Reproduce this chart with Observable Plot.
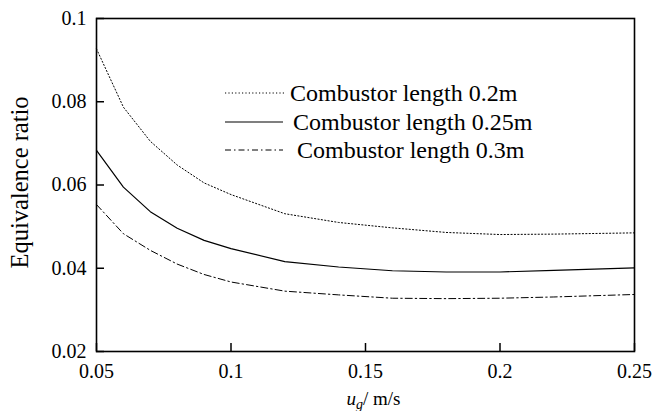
<!DOCTYPE html>
<html><head><meta charset="utf-8">
<script src="https://cdn.jsdelivr.net/npm/d3@7"></script>
<script src="https://cdn.jsdelivr.net/npm/@observablehq/plot@0.6"></script>
<style>
body{margin:0;background:#fff;}
#wrap{position:relative;width:654px;height:411px;font-family:"Liberation Serif","Times New Roman",serif;}
.leg{position:absolute;left:225px;height:28px;display:flex;align-items:center;font-size:24px;color:#000;white-space:nowrap;}
.leg svg{display:block;}
</style></head><body><div id="wrap"></div>
<script>
const speeds = [0.05, 0.06, 0.07, 0.08, 0.09, 0.1, 0.12, 0.14, 0.16, 0.18, 0.2, 0.22, 0.25];
const len020 = [0.0927, 0.0787, 0.0705, 0.0648, 0.0605, 0.0577, 0.0531, 0.0510, 0.0497, 0.0486, 0.0481, 0.0482, 0.0485];
const len025 = [0.0683, 0.0595, 0.0536, 0.0496, 0.0467, 0.0447, 0.0416, 0.0403, 0.0394, 0.0391, 0.0391, 0.0395, 0.0401];
const len030 = [0.0553, 0.0483, 0.0443, 0.0410, 0.0385, 0.0367, 0.0345, 0.0336, 0.0328, 0.0327, 0.0328, 0.0331, 0.0337];
const seriesNames = ["Combustor length 0.2m", "Combustor length 0.25m", "Combustor length 0.3m"];
const xTicks = [0.05, 0.1, 0.15, 0.2, 0.25];
const xTickLabels = ["0.05", "0.1", "0.15", "0.2", "0.25"];
const yTicks = [0.02, 0.04, 0.06, 0.08, 0.1];
const yTickLabels = ["0.02", "0.04", "0.06", "0.08", "0.1"];
const yLabel = "Equivalence ratio";
const xLabelParts = ["u", "g", "/ m/s"];

const font = '"Liberation Serif","Times New Roman",serif';
const seriesValues = [len020, len025, len030];
const dashes = ["1.2,2.2", null, "7,3,1.5,3"];
const legendDashes = ["1.2,2.2", null, "6,3,1.5,3"];
const rows = seriesValues.map(vals => speeds.map((s, i) => ({s, v: vals[i]})));

const svg = Plot.plot({
  width: 654, height: 411,
  marginLeft: 96, marginRight: 20, marginTop: 18, marginBottom: 60,
  style: {fontFamily: font, fontSize: "20px", color: "#000", background: "#fff", overflow: "visible"},
  x: {domain: [0.05, 0.25]},
  y: {domain: [0.02, 0.1]},
  marks: [
    Plot.axisX({ticks: xTicks, tickFormat: d => xTickLabels[xTicks.indexOf(d)], tickSize: -8, tickPadding: 20, stroke: "#000", strokeWidth: 1.5, label: null, fontFamily: font}),
    Plot.axisY({ticks: yTicks, tickFormat: d => yTickLabels[yTicks.indexOf(d)], tickSize: -8, tickPadding: 18, stroke: "#000", strokeWidth: 1.5, label: null, fontFamily: font}),
    ...rows.map((r, i) => Plot.line(r, {x: "s", y: "v", stroke: "#000", strokeWidth: i === 1 ? 1.2 : 1, strokeDasharray: dashes[i]})),
    Plot.frame({stroke: "#000", strokeWidth: 1.6}),
    Plot.text([yLabel], {text: d => d, frameAnchor: "left", textAnchor: "middle", dx: -76, dy: -2.5, rotate: -90, fontSize: 24.5, lineAnchor: "middle", fill: "#000", fontFamily: font}),
    Plot.text([xLabelParts.join("")], {text: d => d, frameAnchor: "bottom", dx: 8, dy: 53, fontSize: 19, lineAnchor: "bottom", fill: "#000", fontFamily: font})
  ]
});

// rich x label: italic u with subscript g
const joined = xLabelParts.join("");
d3.select(svg).selectAll("text").filter(function() { return this.textContent === joined; }).each(function() {
  const t = d3.select(this);
  t.text(null);
  t.append("tspan").attr("font-style", "italic").text(xLabelParts[0]);
  t.append("tspan").attr("font-style", "italic").attr("font-size", "14px").attr("dy", "4").text(xLabelParts[1]);
  t.append("tspan").attr("dy", "-4").text(xLabelParts[2]);
});

const wrap = document.getElementById("wrap");
wrap.appendChild(svg);

const legTops = [79, 108, 136];
const legGaps = [5, 10, 14];
const legLens = [60, 58, 58];
seriesNames.forEach((name, i) => {
  const div = document.createElement("div");
  div.className = "leg";
  div.style.top = legTops[i] + "px";
  const s = d3.create("svg").attr("width", legLens[i]).attr("height", 10);
  s.append("line").attr("x1", 0).attr("x2", legLens[i]).attr("y1", 5).attr("y2", 5)
    .attr("stroke", "#000").attr("stroke-width", i === 1 ? 1.2 : 1)
    .attr("stroke-dasharray", legendDashes[i]);
  div.appendChild(s.node());
  const span = document.createElement("span");
  span.style.marginLeft = legGaps[i] + "px";
  span.textContent = name;
  div.appendChild(span);
  wrap.appendChild(div);
});
</script>
</body></html>
